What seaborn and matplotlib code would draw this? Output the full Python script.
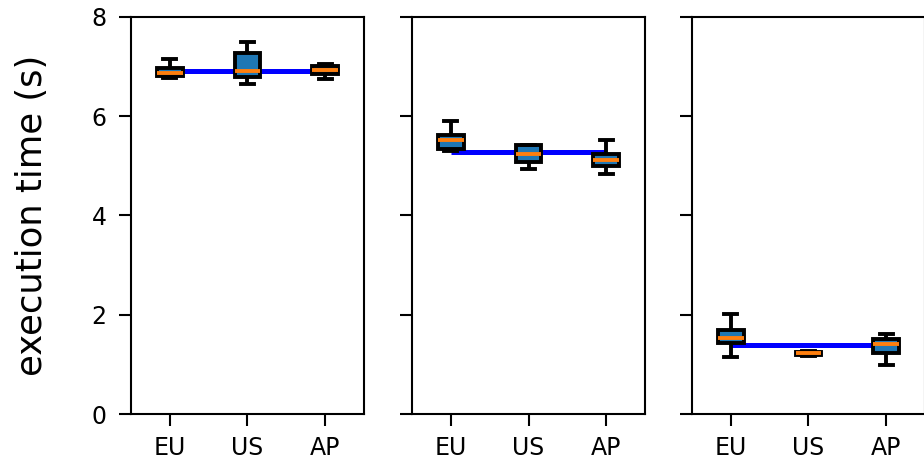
import pandas as pd
import seaborn as sns
import matplotlib.pyplot as plt


plt.rcParams.update({
    "font.family": "DejaVu Sans",
    "xtick.labelsize": 17,
    "ytick.labelsize": 17,
    "axes.linewidth": 1.5,
    "axes.edgecolor": "black",
})

regions = ["EU", "US", "AP"]

# five-number summaries: low whisker, q1, median, q3, high whisker
panel1_eu = [6.78, 6.82, 6.88, 6.97, 7.15]
panel1_us = [6.65, 6.80, 6.91, 7.28, 7.50]
panel1_ap = [6.76, 6.85, 6.94, 7.02, 7.06]

panel2_eu = [5.30, 5.33, 5.53, 5.63, 5.90]
panel2_us = [4.93, 5.08, 5.23, 5.43, 5.43]
panel2_ap = [4.83, 5.00, 5.11, 5.23, 5.52]

panel3_eu = [1.15, 1.43, 1.54, 1.70, 2.01]
panel3_us = [1.17, 1.19, 1.22, 1.25, 1.27]
panel3_ap = [0.99, 1.22, 1.42, 1.51, 1.61]

# blue reference line per panel (mean of the medians)
baselines = [6.91, 5.28, 1.39]

panels = [
    [panel1_eu, panel1_us, panel1_ap],
    [panel2_eu, panel2_us, panel2_ap],
    [panel3_eu, panel3_us, panel3_ap],
]

W, H = 924, 461
fig = plt.figure(figsize=(W / 100, H / 100), dpi=100)

lefts = [131, 412, 692]
axes = []
for i, left in enumerate(lefts):
    rect = [left / W, 47 / H, 233 / W, 397 / H]
    if i == 0:
        ax = fig.add_axes(rect)
    else:
        ax = fig.add_axes(rect, sharey=axes[0])
    axes.append(ax)

for i, ax in enumerate(axes):
    rows = []
    for region, vals in zip(regions, panels[i]):
        for v in vals:
            rows.append({"region": region, "time": v})
    df = pd.DataFrame(rows)

    ax.hlines(baselines[i], 0, len(regions) - 1, colors="blue",
              linewidth=3.6, zorder=1)

    sns.boxplot(
        data=df, x="region", y="time", order=regions, ax=ax,
        color="#1f77b4", saturation=1, width=0.33,
        linecolor="black", linewidth=2.8, showfliers=False,
        medianprops={"color": "#ff7f0e", "linewidth": 2.8},
    )

    ax.set_ylim(0, 8)
    ax.set_yticks([0, 2, 4, 6, 8])
    ax.set_xlabel("")
    ax.set_ylabel("")
    ax.tick_params(axis="both", length=8.5, width=1.5, color="black")
    ax.tick_params(axis="y", pad=9)
    ax.tick_params(axis="x", pad=7)
    if i > 0:
        ax.tick_params(labelleft=False)

axes[0].set_ylabel("execution time (s)", fontsize=25.5)
axes[0].yaxis.set_label_coords(-0.35, 0.5)

fig.savefig("out.png", dpi=100)
